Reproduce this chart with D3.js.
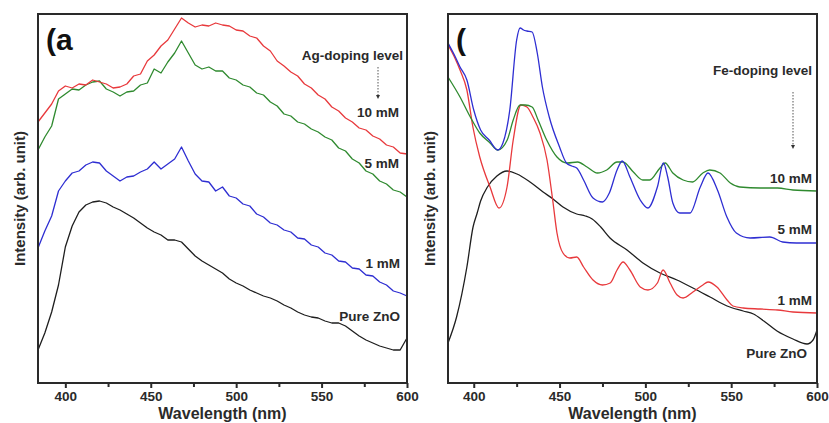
<!DOCTYPE html>
<html>
<head>
<meta charset="utf-8">
<script src="https://cdn.jsdelivr.net/npm/d3@7/dist/d3.min.js"></script>
<style>
  html, body { margin: 0; padding: 0; background: #fff; }
  svg { display: block; font-family: "Liberation Sans", Arial, sans-serif; }
</style>
</head>
<body>
<svg id="chart" width="829" height="423"></svg>
<script>
// ---------- (a) Ag-doped ZnO: PL intensity sampled every 4 nm ----------
const agWavelength = [384,388,392,396,400,404,408,412,416,420,424,428,432,436,440,444,448,452,456,460,
  464,468,472,476,480,484,488,492,496,500,504,508,512,516,520,524,528,532,536,540,
  544,548,552,556,560,564,568,572,576,580,584,588,592,596,600];
const ag10mM = [261,270,279,292,297,295,299,298,303,301, 299,295,296,299,307,309,322,328,337,343,
  354,365,360,356,358,357,360,358,357,353, 352,347,345,337,332,322,317,311,307,299,
  295,288,284,276,272,265,261,255,253,247, 244,238,236,230,229];
const ag5mM = [233,246,257,284,289,294,293,298,301,302, 294,291,287,291,292,298,300,314,310,321,
  330,342,330,318,314,316,312,312,305,303, 298,296,290,288,281,277,269,267,261,259,
  254,251,246,243,235,232,224,220,212,209, 202,199,193,191,186];
const ag1mM = [135,152,167,192,202,210,212,218,221,220, 212,207,202,206,207,211,214,221,214,219,
  224,236,222,209,202,201,192,196,187,185, 179,177,169,166,160,158,153,151,145,144,
  138,136,130,128,122,121,115,114,108,107, 101,98,92,90,87];
const agPure = [33,50,71,98,136,157,171,178,181,182, 180,176,173,169,165,160,155,151,148,143,
  143,141,134,127,122,118,114,110,104,100, 97,93,90,87,85,82,78,75,71,68,
  66,65,62,60,60,57,52,47,43,40, 37,35,33,33,45];

// ---------- (b) Fe-doped ZnO: [wavelength (nm), intensity] ----------
const fe10mM = [[385,306],[392,286],[398,266],[403.5,250],[409.5,240],[414,233],[419.5,243],[423,263],
  [427,278],[430,278],[434,276],[437.5,263],[442.5,243],[448.5,226],[454.5,220],[460.5,221],[466,216],
  [472,210],[477.5,213],[483.5,221],[487,221],[493,211],[498.5,203],[502.5,203],[508.5,215],[511.5,220],
  [516,210],[522,203],[527.5,201],[533.5,210],[537.5,213],[543.5,210],[549.5,200],[555,196],[567,195],
  [577,195],[586,193],[600,192]];
const fe5mM = [[385,340],[389,327],[392,316],[396,303],[400,273],[404,253],[409,243],[414,233],[417,240],
  [421,273],[425,343],[427,355],[429,353],[431,352],[434,351],[437,330],[440,296],[444,266],[450,236],
  [454,220],[457,217],[460,215],[464,203],[469.5,185],[475,181],[479,190],[483.5,213],[486.5,222],
  [491,206],[497,183],[501.5,175],[507,196],[510.5,220],[513,206],[516,180],[520,170],[526,170],
  [532,196],[536.5,210],[542,193],[547.5,166],[553,150],[561,145],[572.5,146],[580,141],[588,140],[600,140]];
const fe1mM = [[385,338],[389,325],[392,313],[396,293],[399.5,256],[403.5,226],[409.5,196],[414.7,175],
  [419.4,196],[423,243],[427.5,278],[431,276],[434.5,266],[438.6,250],[442.7,223],[446,183],[448.5,150],
  [452,130],[456,125],[460,126],[464,116],[469.5,103],[475,98],[479.5,100],[483.5,113],[487,121],
  [491,113],[497,96],[501.5,93],[507,100],[510.3,113],[514.4,100],[518.5,88],[522,85],[527.7,91],
  [533.5,98],[536.5,101],[541.7,96],[547.6,83],[551,77],[557,75],[567,74],[577,73],[586,71],[600,70]];
const fePure = [[385,40],[390,66],[396,116],[399.6,156],[402,170],[404,182],[408,196],[413.5,207],
  [419.4,212],[425.2,209],[432.8,201],[440.4,191],[446.2,184],[452,176],[460,169],[465,167],
  [469,164],[474,156],[479.4,145],[489.3,133],[498.6,120],[508.5,110],[518.4,103],[527.7,95],
  [537.7,86],[547.6,77],[557,72],[563,69],[569,62],[576.7,52],[586,44],[594.2,39],[597.7,43],[600,53]];

const majorTicks = [400, 450, 500, 550, 600];
const minorTicks = [425, 475, 525, 575];
const levelLabels = ["10 mM", "5 mM", "1 mM", "Pure ZnO"];
const colors = { c10: "#e8393c", c5: "#2f8a2f", c1: "#2e2ed2", pure: "#1e1e1e" };

const svg = d3.select("#chart");
const ink = "#2a2a2a";

// shared vertical scale (arbitrary units)
const y = d3.scaleLinear().domain([0, 369]).range([383, 14]);

function drawPanel(cfg) {
  const x = d3.scaleLinear().domain(cfg.domain).range(cfg.range);
  const g = svg.append("g");

  // curves
  const line = d3.line().x(d => x(d[0])).y(d => y(d[1])).curve(cfg.curve);
  cfg.series.forEach(s => {
    g.append("path")
      .datum(s.data)
      .attr("fill", "none")
      .attr("stroke", s.color)
      .attr("stroke-width", 1.3)
      .attr("stroke-linejoin", "round")
      .attr("d", line);
  });

  // frame
  g.append("rect")
    .attr("x", cfg.range[0]).attr("y", y(369))
    .attr("width", cfg.range[1] - cfg.range[0])
    .attr("height", y(0) - y(369))
    .attr("fill", "none").attr("stroke", ink).attr("stroke-width", 2);

  // bottom axis: major ticks with labels, minor ticks without
  const axis = g.append("g").attr("transform", `translate(0,${y(0)})`)
    .call(d3.axisBottom(x).tickValues(majorTicks).tickSize(5).tickSizeOuter(0).tickPadding(3));
  axis.select(".domain").remove();
  axis.selectAll(".tick line").attr("stroke", ink).attr("stroke-width", 2);
  axis.selectAll(".tick text")
    .attr("fill", ink).attr("font-size", 13.5).attr("font-weight", "bold");

  const minor = g.append("g").attr("transform", `translate(0,${y(0)})`)
    .call(d3.axisBottom(x).tickValues(minorTicks).tickSize(4).tickSizeOuter(0).tickFormat(""));
  minor.select(".domain").remove();
  minor.selectAll(".tick line").attr("stroke", ink).attr("stroke-width", 2);

  // axis titles
  const cx = (cfg.range[0] + cfg.range[1]) / 2;
  g.append("text")
    .attr("x", cx).attr("y", 419)
    .attr("text-anchor", "middle")
    .attr("font-size", 16).attr("font-weight", "bold").attr("fill", ink)
    .text("Wavelength (nm)");
  g.append("text")
    .attr("transform", `translate(${cfg.range[0] - 13},${(y(0) + y(369)) / 2}) rotate(-90)`)
    .attr("text-anchor", "middle")
    .attr("font-size", 15).attr("font-weight", "bold").attr("fill", ink)
    .text("Intensity (arb. unit)");

  // panel tag
  g.append("text")
    .attr("x", cfg.range[0] + 8).attr("y", 50)
    .attr("font-size", 30).attr("font-weight", "bold").attr("fill", "#111")
    .text(cfg.tag);

  // doping-level header, dotted arrow and curve labels
  g.append("text")
    .attr("x", cfg.headerX).attr("y", cfg.headerY)
    .attr("text-anchor", "end")
    .attr("font-size", 13.5).attr("font-weight", "bold").attr("fill", ink)
    .text(cfg.header);
  g.append("line")
    .attr("x1", cfg.arrow[0]).attr("x2", cfg.arrow[0])
    .attr("y1", cfg.arrow[1]).attr("y2", cfg.arrow[2] - 3)
    .attr("stroke", "#555").attr("stroke-width", 1)
    .attr("stroke-dasharray", "1.5,1.5");
  g.append("path")
    .attr("d", `M${cfg.arrow[0] - 2},${cfg.arrow[2] - 4}L${cfg.arrow[0] + 2},${cfg.arrow[2] - 4}L${cfg.arrow[0]},${cfg.arrow[2]}Z`)
    .attr("fill", "#333");

  levelLabels.forEach((t, i) => {
    g.append("text")
      .attr("x", cfg.labelPos[i][0]).attr("y", cfg.labelPos[i][1])
      .attr("text-anchor", "end")
      .attr("font-size", 13.5).attr("font-weight", "bold").attr("fill", ink)
      .text(t);
  });
}

const zip = (xs, vs) => xs.map((w, i) => [w, vs[i]]);

drawPanel({
  domain: [384, 600], range: [38, 407], curve: d3.curveLinear, tag: "(a",
  series: [
    { data: zip(agWavelength, agPure), color: colors.pure },
    { data: zip(agWavelength, ag1mM), color: colors.c1 },
    { data: zip(agWavelength, ag5mM), color: colors.c5 },
    { data: zip(agWavelength, ag10mM), color: colors.c10 }
  ],
  header: "Ag-doping level", headerX: 403, headerY: 60,
  arrow: [378, 67, 99],
  labelPos: [[399, 117], [399, 168], [400, 268], [400, 321]]
});

drawPanel({
  domain: [385, 600], range: [448, 817], curve: d3.curveMonotoneX, tag: "(",
  series: [
    { data: fePure, color: colors.pure },
    { data: fe1mM, color: colors.c10 },
    { data: fe10mM, color: colors.c5 },
    { data: fe5mM, color: colors.c1 }
  ],
  header: "Fe-doping level", headerX: 812, headerY: 75,
  arrow: [793, 92, 149],
  labelPos: [[812, 183], [812, 234], [812, 305], [807, 358]]
});
</script>
</body>
</html>
